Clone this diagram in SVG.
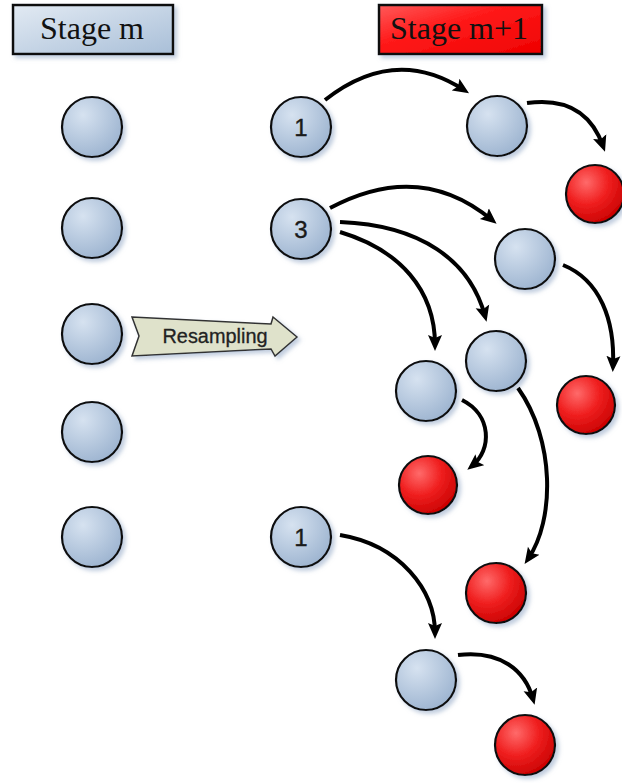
<svg xmlns="http://www.w3.org/2000/svg" width="622" height="783" viewBox="0 0 622 783">
<defs>
<radialGradient id="gBlue" cx="35%" cy="30%" r="75%">
<stop offset="0" stop-color="#d6e2f0"/>
<stop offset="1" stop-color="#9db4d0"/>
</radialGradient>
<radialGradient id="gRed" cx="35%" cy="30%" r="75%">
<stop offset="0" stop-color="#ff6a6a"/>
<stop offset="0.5" stop-color="#f02020"/>
<stop offset="1" stop-color="#c80000"/>
</radialGradient>
<linearGradient id="gHdrBlue" x1="0" y1="0" x2="1" y2="1">
<stop offset="0" stop-color="#e2eaf3"/>
<stop offset="1" stop-color="#a9bfd8"/>
</linearGradient>
<linearGradient id="gHdrRed" x1="0" y1="0" x2="1" y2="1">
<stop offset="0" stop-color="#ff5a5a"/>
<stop offset="0.4" stop-color="#ff1a1a"/>
<stop offset="1" stop-color="#ee0000"/>
</linearGradient>
<filter id="sh" x="-30%" y="-30%" width="160%" height="160%">
<feDropShadow dx="3" dy="3" stdDeviation="2" flood-color="#8ea4c4" flood-opacity="0.55"/>
</filter>
<marker id="ah" markerUnits="userSpaceOnUse" markerWidth="18" markerHeight="16" refX="10" refY="7" orient="auto" viewBox="0 0 18 14">
<path d="M0,0 L16,7 L0,14 L3,7 z" fill="#000"/>
</marker>
<style>
.nb{fill:url(#gBlue);stroke:#111;stroke-width:2.2;filter:url(#sh)}
.nr{fill:url(#gRed);stroke:#111;stroke-width:2.2;filter:url(#sh)}
.lbl{font-family:"Liberation Sans",Arial,sans-serif;font-size:24px;fill:#1a1a1a;stroke:#1a1a1a;stroke-width:0.4;text-anchor:middle}
.hdr{font-family:"Liberation Serif","Times New Roman",serif;font-size:32px;fill:#111;text-anchor:middle}
.con path{fill:none;stroke:#000;stroke-width:4;marker-end:url(#ah)}
</style>
</defs>
<rect width="622" height="783" fill="#fff"/>

<g id="hdr-m">
<rect x="13" y="5" width="160" height="49" fill="url(#gHdrBlue)" stroke="#111" stroke-width="2.5" filter="url(#sh)"/>
<text class="hdr" x="92" y="39">Stage m</text>
</g>
<g id="hdr-m1">
<rect x="379" y="5" width="163" height="49" fill="url(#gHdrRed)" stroke="#111" stroke-width="2.5" filter="url(#sh)"/>
<text class="hdr" x="459" y="39">Stage m+1</text>
</g>

<g id="left-1"><circle class="nb" cx="92" cy="127" r="30"/></g>
<g id="left-2"><circle class="nb" cx="92" cy="228" r="30"/></g>
<g id="left-3"><circle class="nb" cx="92" cy="334" r="30"/></g>
<g id="left-4"><circle class="nb" cx="92" cy="432" r="30"/></g>
<g id="left-5"><circle class="nb" cx="92" cy="537" r="30"/></g>

<g id="mid-1"><circle class="nb" cx="301" cy="127" r="30"/><text class="lbl" x="301" y="136">1</text></g>
<g id="mid-3"><circle class="nb" cx="301" cy="229" r="30"/><text class="lbl" x="301" y="238">3</text></g>
<g id="mid-5"><circle class="nb" cx="301" cy="537" r="30"/><text class="lbl" x="301" y="546">1</text></g>

<g id="resampling">
<polygon points="132,317 271,324 273,317 297,337 275,356 271,349 132,356 139,336" fill="#dfe2cb" stroke="#333" stroke-width="1.5" filter="url(#sh)"/>
<text x="215" y="343" font-family="'Liberation Sans',Arial,sans-serif" font-size="20" fill="#222" stroke="#222" stroke-width="0.3" text-anchor="middle" textLength="105" lengthAdjust="spacingAndGlyphs">Resampling</text>
</g>

<g id="n-b1"><circle class="nb" cx="497" cy="126" r="30"/></g>
<g id="n-r1"><circle class="nr" cx="595" cy="194" r="29"/></g>
<g id="n-b2"><circle class="nb" cx="525" cy="259" r="30"/></g>
<g id="n-b3"><circle class="nb" cx="496" cy="361" r="30"/></g>
<g id="n-b4"><circle class="nb" cx="426" cy="391" r="30"/></g>
<g id="n-r2"><circle class="nr" cx="586" cy="405" r="29"/></g>
<g id="n-r3"><circle class="nr" cx="428" cy="485" r="29"/></g>
<g id="n-r4"><circle class="nr" cx="496" cy="593" r="30"/></g>
<g id="n-b5"><circle class="nb" cx="426" cy="680" r="30"/></g>
<g id="n-r5"><circle class="nr" cx="525" cy="745" r="30"/></g>

<g id="connectors" class="con">
<path d="M325,100 Q395,45 464,90"/>
<path d="M527,103 Q585,95 603,146"/>
<path d="M330,208 Q420,160 492,220"/>
<path d="M340,222 C420,225 470,260 485,316"/>
<path d="M340,232 C400,250 435,290 435,345"/>
<path d="M563,265 C600,280 615,320 613,366"/>
<path d="M462,400 C492,415 492,450 472,466"/>
<path d="M518,388 C555,440 555,520 528,559"/>
<path d="M340,535 C400,545 435,590 435,633"/>
<path d="M458,655 C500,650 525,670 533,699"/>
</g>
</svg>
